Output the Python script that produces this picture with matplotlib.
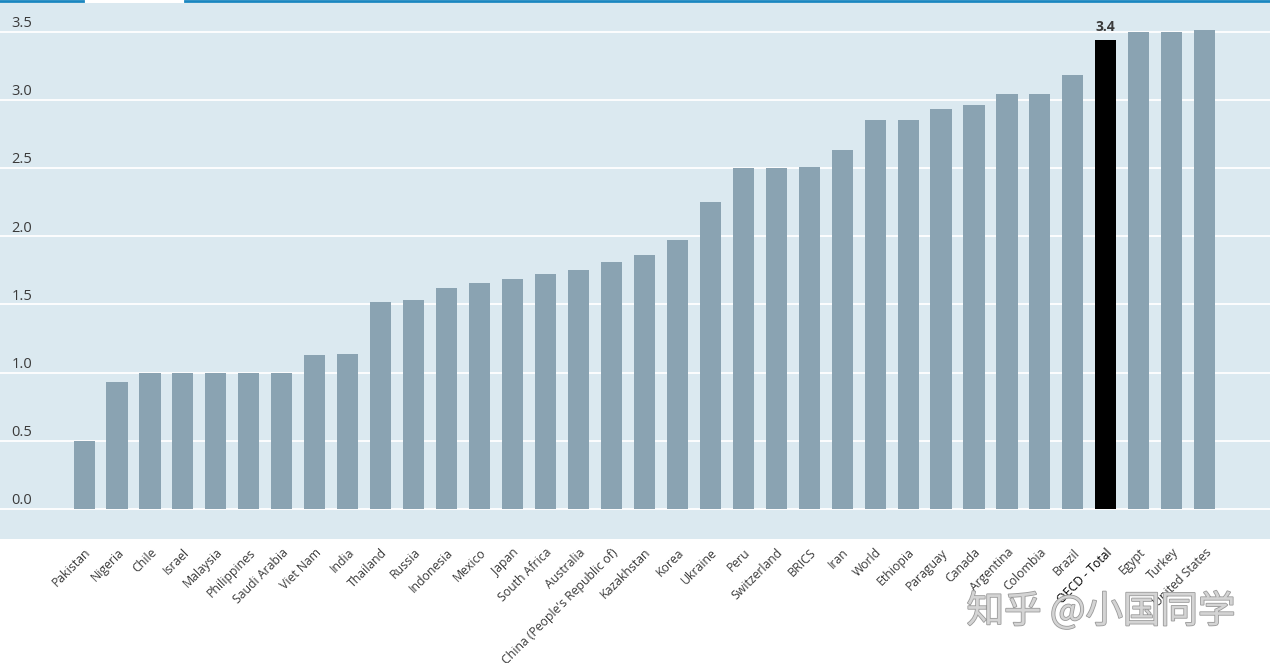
import matplotlib.pyplot as plt
import matplotlib.patheffects as pe

# --- DATOS ---
paises = ["Pakistan", "Nigeria", "Chile", "Israel", "Malaysia", "Philippines",
          "Saudi Arabia", "Viet Nam", "India", "Thailand", "Russia", "Indonesia",
          "Mexico", "Japan", "South Africa", "Australia", "China (People's Republic of)",
          "Kazakhstan", "Korea", "Ukraine", "Peru", "Switzerland", "BRICS", "Iran",
          "World", "Ethiopia", "Paraguay", "Canada", "Argentina", "Colombia", "Brazil",
          "OECD - Total", "Egypt", "Turkey", "United States"]
valores = [0.50, 0.93, 1.00, 1.00, 1.00, 1.00,
           1.00, 1.13, 1.14, 1.52, 1.53, 1.62,
           1.66, 1.69, 1.72, 1.75, 1.81,
           1.86, 1.97, 2.25, 2.50, 2.50, 2.51, 2.63,
           2.85, 2.85, 2.93, 2.96, 3.04, 3.04, 3.18,
           3.44, 3.50, 3.50, 3.51]
destacado = "OECD - Total"
etiqueta_destacado = "3.4"
ticks_y = [0.0, 0.5, 1.0, 1.5, 2.0, 2.5, 3.0, 3.5]

# --- ESTILO ---
COLOR_FONDO = "#dbe9f0"
COLOR_BARRA = "#8aa3b2"
COLOR_TEXTO = "#3a3a3a"
plt.rcParams['font.family'] = ['Open Sans', 'DejaVu Sans']

fig = plt.figure(figsize=(12.7, 6.63), dpi=100)
ax = fig.add_axes([0, 124 / 663, 1, 536 / 663])
ax.set_facecolor(COLOR_FONDO)

colores = ["black" if p == destacado else COLOR_BARRA for p in paises]
x = list(range(len(paises)))
ax.bar(x, valores, width=0.64, color=colores, zorder=3)

ax.set_xlim(-2.55, 35.98)
ax.set_ylim(-0.22, 3.71)

# Lineas de referencia blancas
for t in ticks_y:
    ax.axhline(t, color="white", linewidth=1.3, zorder=2)
    ax.text(0.009, t + 0.005, f"{t:.1f}", transform=ax.get_yaxis_transform(),
            ha="left", va="bottom", fontsize=10.5, color=COLOR_TEXTO)

# Etiqueta de la barra destacada
i_dest = paises.index(destacado)
ax.text(i_dest, valores[i_dest] + 0.04, etiqueta_destacado, ha="center", va="bottom",
        fontsize=10, fontweight="bold", color=COLOR_TEXTO)

ax.set_yticks([])
ax.set_xticks(x)
ax.set_xticklabels(paises, rotation=45, ha="right", rotation_mode="anchor",
                   fontsize=8.8, color=COLOR_TEXTO)
ax.tick_params(axis="x", length=0, pad=5)
for lbl in ax.get_xticklabels():
    if lbl.get_text() == destacado:
        lbl.set_color("black")
for s in ax.spines.values():
    s.set_visible(False)

# Linea azul superior
fig.add_artist(plt.Line2D([0, 83 / 1270], [1 - 1 / 663] * 2, color="#1a86c0", linewidth=2))
fig.add_artist(plt.Line2D([185 / 1270, 1], [1 - 1 / 663] * 2, color="#1a86c0", linewidth=2))

# Marca de agua
fig.text(1101 / 1270, 1 - 612 / 663, "知乎 @小国同学", ha="center", va="center",
         fontsize=27, color="#d4d4d4", family=['Noto Sans CJK SC', 'DejaVu Sans'],
         path_effects=[pe.withStroke(linewidth=1.2, foreground="#9a9a9a")])

fig.savefig("out.png", dpi=100)
